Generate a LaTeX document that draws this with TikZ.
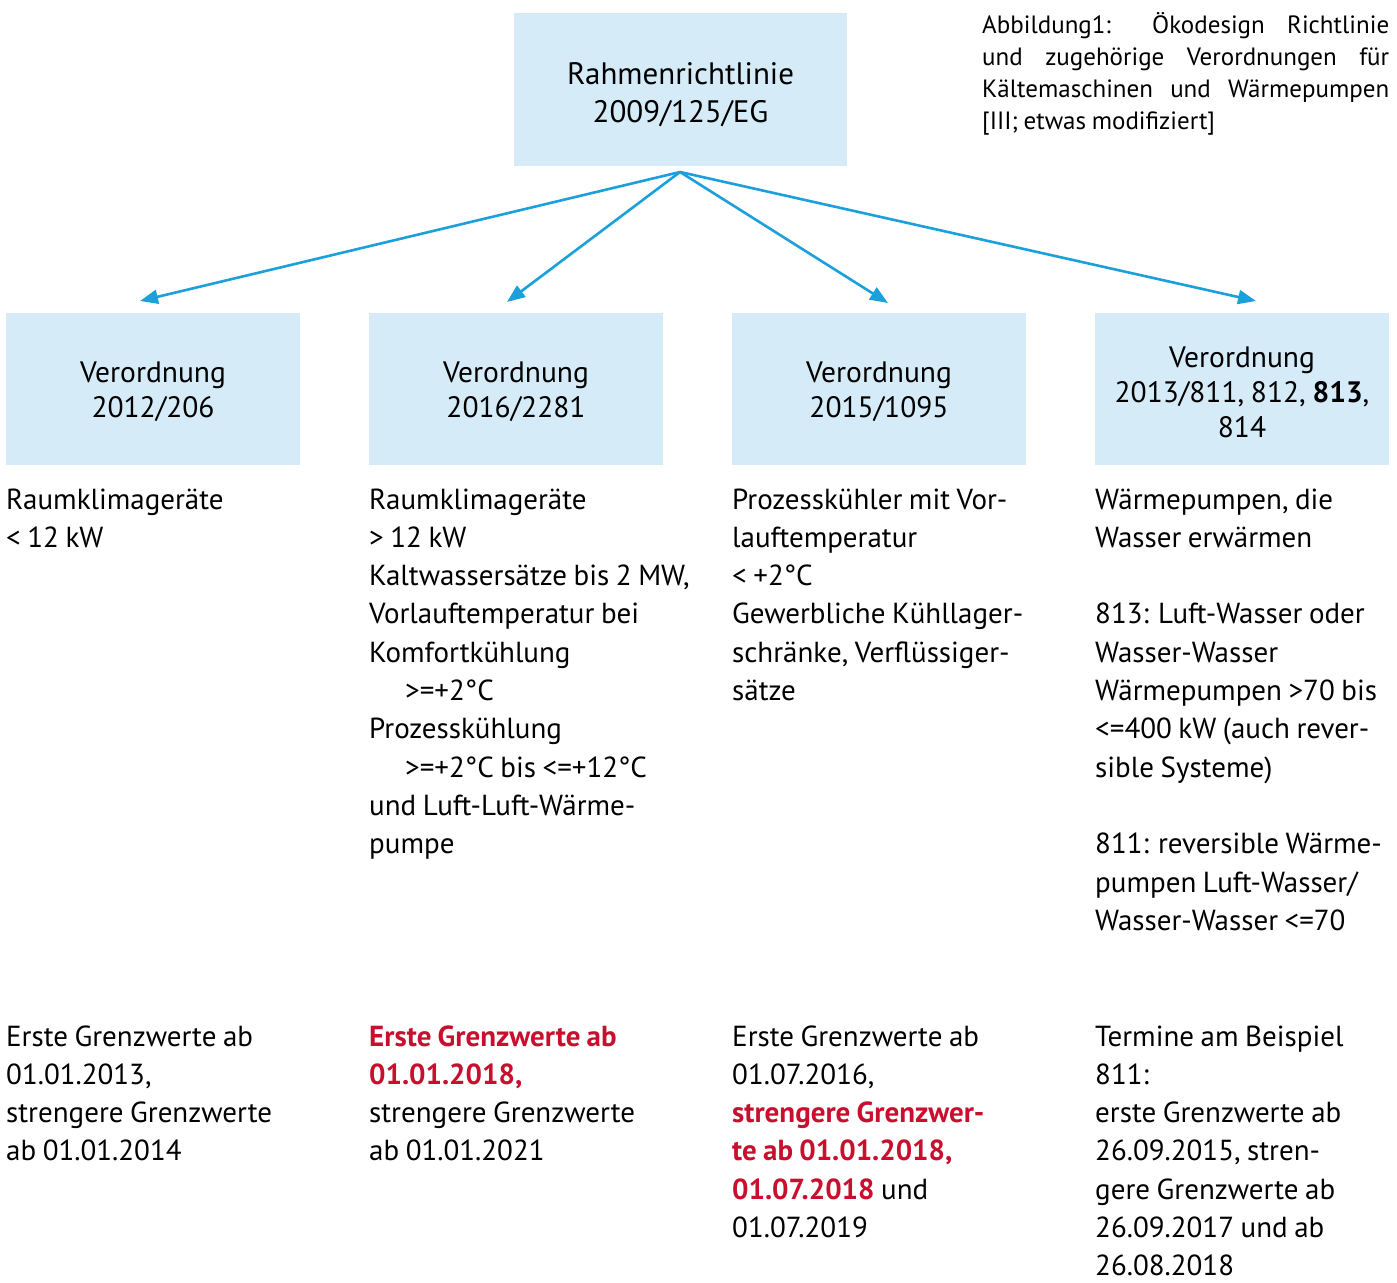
\documentclass[tikz,border=0pt]{standalone}
\usepackage{fontspec}
\setmainfont[WordSpace=0.85]{PT Sans}
\usetikzlibrary{arrows.meta}
\definecolor{boxblue}{HTML}{D5EBF8}
\definecolor{arrowblue}{HTML}{1BA0DB}
\definecolor{hired}{HTML}{C8102E}
\newcommand{\hl}[1]{{\color{hired}\bfseries #1}}
\newcommand{\capline}[1]{\makebox[407pt][s]{#1}}
\tikzset{
  vbox/.style={fill=boxblue, minimum width=294pt, minimum height=152pt, inner sep=0pt},
  topbox/.style={fill=boxblue, minimum width=333pt, minimum height=153pt, inner sep=0pt},
  boxtext/.style={inner sep=0pt, align=center, font=\fontsize{29.5}{35}\selectfont},
  toptext/.style={inner sep=0pt, align=center, font=\fontsize{31}{38}\selectfont},
  desc/.style={anchor=base west, inner sep=0pt, align=left, font=\fontsize{29}{38.3}\selectfont},
  caption/.style={anchor=base west, inner sep=0pt, align=left, font=\fontsize{25}{32}\selectfont},
  link/.style={draw=arrowblue, line width=2.6pt, -{Triangle[length=18pt,width=14pt]}}
}
\begin{document}
\begin{tikzpicture}[x=1pt,y=-1pt]
\useasboundingbox (0,0) rectangle (1397,1282);
% top box
\node[topbox] (top) at (680.5,89.5) {};
\node[toptext] (toptxt) at (680.5,95) {Rahmenrichtlinie\\2009/125/EG};
\node[caption] (cap) at (982,129) {\capline{Abbildung1: Ökodesign Richtlinie}\\\capline{und zugehörige Verordnungen für}\\\capline{Kältemaschinen und Wärmepumpen}\\{[III; etwas modifiziert]}};
% regulation boxes
\node[vbox] (v1) at (153,389) {};
\node[vbox] (v2) at (516,389) {};
\node[vbox] (v3) at (879,389) {};
\node[vbox] (v4) at (1242,389) {};
\node[boxtext] (v1t) at (153,392) {Verordnung\\2012/206};
\node[boxtext] (v2t) at (516,392) {Verordnung\\2016/2281};
\node[boxtext] (v3t) at (879,392) {Verordnung\\2015/1095};
\node[boxtext] (v4t) at (1242,392) {Verordnung\\2013/811, 812, \textbf{813},\\814};
% arrows
\coordinate (hub) at (680,172);
\coordinate (e1) at (140,301);
\coordinate (e2) at (507,302);
\coordinate (e3) at (888,303);
\coordinate (e4) at (1256,301);
\draw[link] (hub) -- (e1);
\draw[link] (hub) -- (e2);
\draw[link] (hub) -- (e3);
\draw[link] (hub) -- (e4);
% descriptions (anchored at the baseline of the last line)
\node[desc] (d1) at (6,547.3) {Raumklimageräte\\< 12 kW};
\node[desc] (d2) at (369,853.7) {Raumklimageräte\\> 12 kW\\Kaltwassersätze bis 2 MW,\\Vorlauftemperatur bei\\Komfortkühlung\\\hspace*{36pt}>=+2°C\\Prozesskühlung\\\hspace*{36pt}>=+2°C bis <=+12°C\\und Luft-Luft-Wärme-\\pumpe};
\node[desc] (d3) at (732,700.5) {Prozesskühler mit Vor-\\lauftemperatur\\< +2°C\\Gewerbliche Kühllager-\\schränke, Verflüssiger-\\sätze};
\node[desc] (d4) at (1095,930.3) {Wärmepumpen, die\\Wasser erwärmen\\[38.3pt]813: Luft-Wasser oder\\Wasser-Wasser\\Wärmepumpen >70 bis\\<=400 kW (auch rever-\\sible Systeme)\\[38.3pt]811: reversible Wärme-\\pumpen Luft-Wasser/\\Wasser-Wasser <=70};
% dates
\node[desc] (t1) at (6,1160.9) {Erste Grenzwerte ab\\01.01.2013,\\strengere Grenzwerte\\ab 01.01.2014};
\node[desc] (t2) at (369,1160.9) {\hl{Erste Grenzwerte ab}\\\hl{01.01.2018,}\\strengere Grenzwerte\\ab 01.01.2021};
\node[desc] (t3) at (732,1237.5) {Erste Grenzwerte ab\\01.07.2016,\\\hl{strengere Grenzwer-}\\\hl{te ab 01.01.2018,}\\\hl{01.07.2018} und\\01.07.2019};
\node[desc] (t4) at (1095,1275.8) {Termine am Beispiel\\811:\\erste Grenzwerte ab\\26.09.2015, stren-\\gere Grenzwerte ab\\26.09.2017 und ab\\26.08.2018};
\end{tikzpicture}
\end{document}
